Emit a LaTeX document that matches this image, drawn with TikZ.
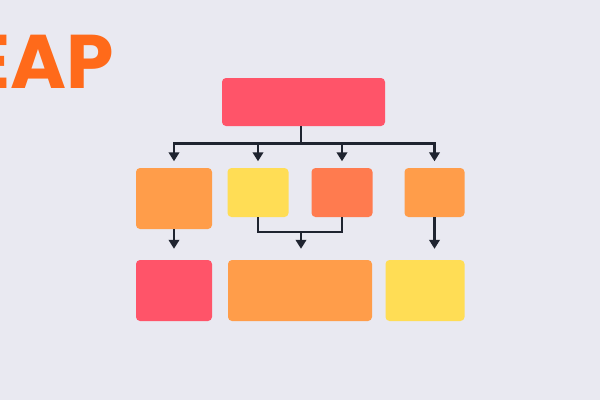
\documentclass[tikz,border=0pt]{standalone}
\usepackage{fontspec}
\newfontfamily\titlefont{Poppins}[UprightFont=* Bold]
\usetikzlibrary{arrows.meta,calc}
\definecolor{bg}{HTML}{E9E9F1}
\definecolor{cpink}{HTML}{FF5469}
\definecolor{corange}{HTML}{FF9D4A}
\definecolor{cyellow}{HTML}{FFDD55}
\definecolor{cred}{HTML}{FF7B4F}
\definecolor{ctitle}{HTML}{FF6A1A}
\definecolor{cline}{HTML}{1F2430}
\tikzset{
  box/.style={rectangle, rounded corners=4pt, inner sep=0pt, draw=none},
  conn/.style={draw=cline, line width=2.3pt},
  arr/.style={conn, -{Triangle[width=10.5pt,length=9pt]}},
}
\begin{document}
\begin{tikzpicture}[x=1pt,y=-1pt]
\fill[bg] (0,0) rectangle (600,400);
\useasboundingbox (0,0) rectangle (600,400);
\begin{scope}
\clip (0,0) rectangle (600,400);
\node[anchor=base east, inner sep=0pt, text=ctitle, font=\titlefont\fontsize{76}{76}\selectfont] (title) at (114,88) {EAP};
\end{scope}
\node[box, fill=cpink, minimum width=163pt, minimum height=48pt] (top) at (303.5,102) {};
\node[box, fill=corange, minimum width=76pt, minimum height=61pt] (A) at (174,198.5) {};
\node[box, fill=cyellow, minimum width=61pt, minimum height=49pt] (B) at (258,192.5) {};
\node[box, fill=cred, minimum width=61pt, minimum height=49pt] (C) at (342,192.5) {};
\node[box, fill=corange, minimum width=60pt, minimum height=49pt] (D) at (434.5,192.5) {};
\node[box, fill=cpink, minimum width=76pt, minimum height=61pt] (E) at (174,290.5) {};
\node[box, fill=corange, minimum width=144pt, minimum height=61pt] (F) at (300,290.5) {};
\node[box, fill=cyellow, minimum width=79pt, minimum height=61pt] (G) at (425,290.5) {};
\coordinate (j1) at (301,143.5);
\coordinate (j2) at (301,232);
\draw[conn] (top.south -| j1) -- (j1);
\draw[conn, line cap=rect] (A.north |- j1) -- (D.north |- j1);
\foreach \n in {A,B,C,D} {
  \draw[arr, shorten >=6.5pt] (\n.north |- j1) -- (\n.north);
}
\draw[arr, shorten >=11pt] (A.south) -- (E.north);
\draw[conn, line join=miter] (B.south) |- (j2) -| (C.south);
\draw[arr, shorten >=11pt] (j2) -- (F.north -| j2);
\draw[arr, shorten >=11pt] (D.south) -- (D.south |- G.north);
\end{tikzpicture}
\end{document}
